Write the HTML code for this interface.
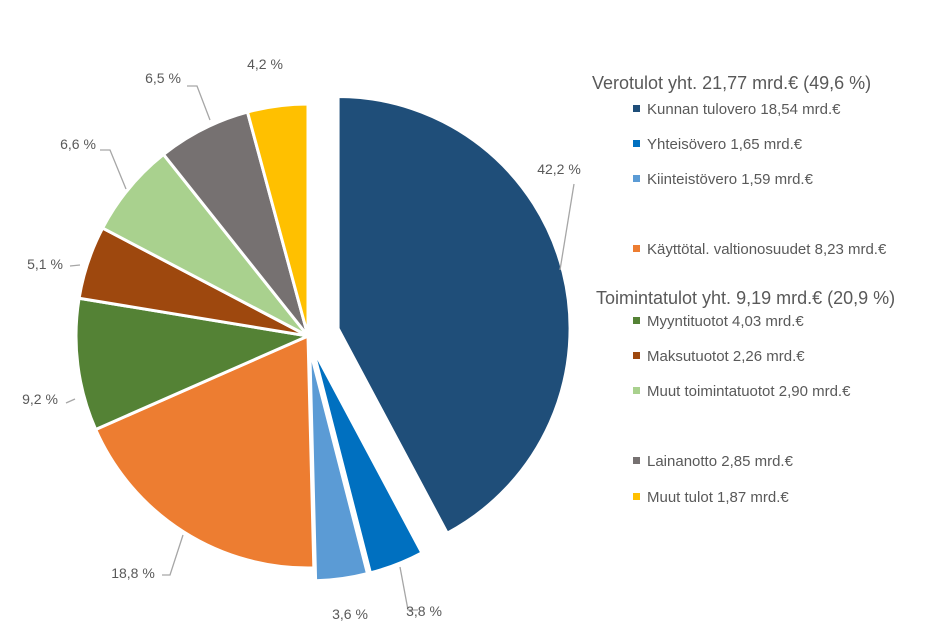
<!DOCTYPE html>
<html><head><meta charset="utf-8"><style>
body{margin:0;background:#fff;width:941px;height:628px;overflow:hidden;font-family:"Liberation Sans",sans-serif}
svg text{fill:#595959}
</style></head><body>
<svg id="chart" width="941" height="628" xmlns="http://www.w3.org/2000/svg">
<g id="slices"></g>
<g id="labels"></g>
<g id="legend">
<text x="592" y="89" font-size="18">Verotulot yht. 21,77 mrd.€ (49,6 %)</text>
<text x="596" y="304" font-size="18">Toimintatulot yht.  9,19 mrd.€ (20,9 %)</text>
</g>
</svg>
<script>
const categories=["Kunnan tulovero 18,54 mrd.€","Yhteisövero 1,65 mrd.€","Kiinteistövero 1,59 mrd.€","Käyttötal. valtionosuudet 8,23 mrd.€","Myyntituotot 4,03 mrd.€","Maksutuotot 2,26 mrd.€","Muut toimintatuotot  2,90 mrd.€","Lainanotto 2,85 mrd.€","Muut tulot 1,87 mrd.€"];
const values=[42.2,3.8,3.6,18.8,9.2,5.1,6.6,6.5,4.2];
const labels=["42,2 %","3,8 %","3,6 %","18,8 %","9,2 %","5,1 %","6,6 %","6,5 %","4,2 %"];
const colors=["#1f4e79","#0070c0","#5b9bd5","#ed7d31","#548235","#9e480e","#a9d18e","#767171","#ffc000"];
const explode=[31,13,13,0,0,0,0,0,0];
const labelPos=[[559,174],[424,616],[350,619],[133,578],[40,404],[45,269],[78,149],[163,83],[265,69]];
const leaders=[[[560,270],[574,184]],[[400,567],[408,610],[418,610]],null,[[183,535],[170,575],[162,575]],[[75,399],[66,403]],[[80,265],[70,266]],[[126,189],[110,150],[100,150]],[[210,120],[197,86],[187,86]],null];
const legendY=[114,149,184,254,326,361,396,466,502];
const NS="http://www.w3.org/2000/svg";
const cx=308,cy=336,r=232;
const total=values.reduce((a,b)=>a+b,0);
function ang(v){return v/total*2*Math.PI;}
function pt(a,rad,ox,oy){return [ox+rad*Math.sin(a),oy-rad*Math.cos(a)];}
const gS=document.getElementById('slices'),gL=document.getElementById('labels'),gG=document.getElementById('legend');
let cum=0;
values.forEach((v,i)=>{
 const a0=ang(cum),a1=ang(cum+v),am=(a0+a1)/2;cum+=v;
 const ox=cx+explode[i]*Math.sin(am),oy=cy-explode[i]*Math.cos(am);
 const p0=pt(a0,r,ox,oy),p1=pt(a1,r,ox,oy);
 const p=document.createElementNS(NS,'path');
 p.setAttribute('d',`M${ox},${oy}L${p0[0]},${p0[1]}A${r},${r} 0 ${a1-a0>Math.PI?1:0} 1 ${p1[0]},${p1[1]}Z`);
 p.setAttribute('fill',colors[i]);p.setAttribute('stroke','#fff');p.setAttribute('stroke-width','3');
 
 
 gS.appendChild(p);
 if(leaders[i]){const l=document.createElementNS(NS,'polyline');
  l.setAttribute('points',leaders[i].map(q=>q.join(',')).join(' '));
  l.setAttribute('fill','none');l.setAttribute('stroke','#a6a6a6');l.setAttribute('stroke-width','1.3');
  
  
  gL.appendChild(l);}
 const t=document.createElementNS(NS,'text');
 t.setAttribute('x',labelPos[i][0]);t.setAttribute('y',labelPos[i][1]);t.setAttribute('font-size','14');t.setAttribute('text-anchor','middle');
 t.textContent=labels[i];
 
 
 gL.appendChild(t);
 const s=document.createElementNS(NS,'rect');
 s.setAttribute('x',633);s.setAttribute('y',legendY[i]-9);s.setAttribute('width',7);s.setAttribute('height',7);s.setAttribute('fill',colors[i]);
 
 
 gG.appendChild(s);
 const lt=document.createElementNS(NS,'text');
 lt.setAttribute('x',647);lt.setAttribute('y',legendY[i]);lt.setAttribute('font-size','15');
 lt.textContent=categories[i];
 
 
 gG.appendChild(lt);
});
</script>
</body></html>
